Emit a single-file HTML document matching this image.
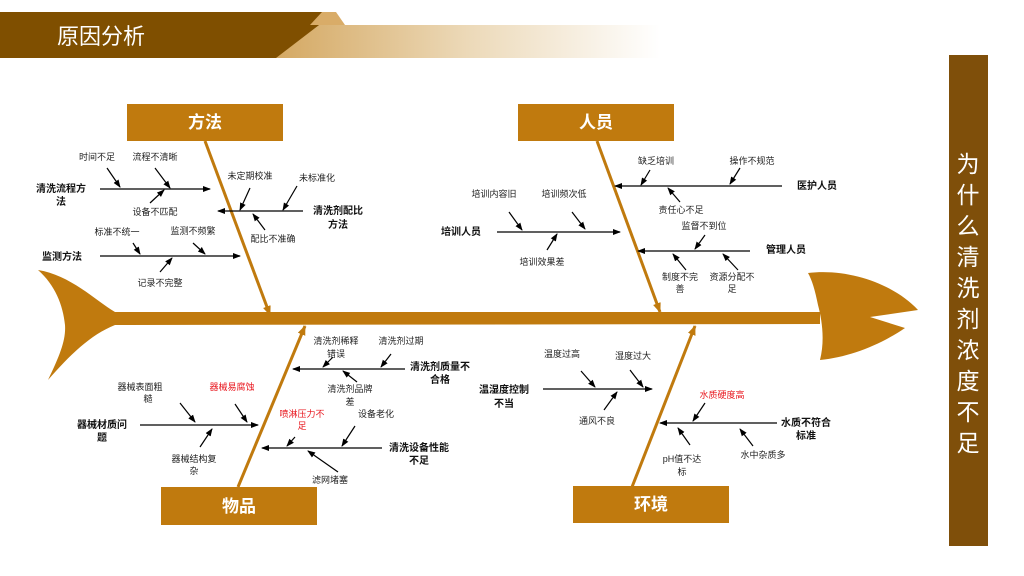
<!DOCTYPE html>
<html><head><meta charset="utf-8"><style>
html,body{margin:0;padding:0;background:#fff;}
svg{display:block;font-family:"Liberation Sans","Noto Sans CJK SC",sans-serif;}
.s{font-size:9px;fill:#222;text-anchor:middle;}
.r{font-size:9px;fill:#e8141c;text-anchor:middle;}
.b{font-size:10px;font-weight:bold;fill:#111;text-anchor:middle;}
.c{font-size:17px;font-weight:bold;fill:#fff;text-anchor:middle;}
</style></head><body>
<svg width="1024" height="576" viewBox="0 0 1024 576">
<defs>
<linearGradient id="g" x1="0" x2="1"><stop offset="0" stop-color="#d4a862"/><stop offset="0.5" stop-color="#ecd9b8"/><stop offset="1" stop-color="#fff"/></linearGradient>
<marker id="a" markerWidth="8" markerHeight="8" refX="7" refY="4" orient="auto" markerUnits="userSpaceOnUse"><path d="M0,1 L8,4 L0,7 z" fill="#000"/></marker>
<marker id="o" markerWidth="10" markerHeight="10" refX="9" refY="5" orient="auto" markerUnits="userSpaceOnUse"><path d="M0,1 L10,5 L0,9 z" fill="#c07a0e"/></marker>
</defs>
<!-- header -->
<polygon points="275,58 310,25 660,25 660,58" fill="url(#g)"/>
<polygon points="0,12 336,12 276,58 0,58" fill="#7f4f00"/>
<polygon points="322,12 336,12 345,25 310,25" fill="#d9ac68"/>
<text x="57" y="44" font-size="22" fill="#fff">原因分析</text>
<!-- right panel -->
<rect x="949" y="55" width="39" height="491" fill="#7f4f0a"/>
<g font-size="23" fill="#fff" text-anchor="middle">
<text x="968" y="172">为</text><text x="968" y="203">什</text><text x="968" y="234">么</text><text x="968" y="265">清</text><text x="968" y="296">洗</text><text x="968" y="327">剂</text><text x="968" y="358">浓</text><text x="968" y="389">度</text><text x="968" y="420">不</text><text x="968" y="451">足</text>
</g>
<!-- fish -->
<g fill="#c07a0e">
<path d="M38,270 C70,275 95,300 115,312 L820,312 L820,324 L115,325 C90,335 70,355 48,380 C60,355 66,340 65,325 C63,305 55,285 38,270 z"/>
<path d="M808,273 C850,268 895,285 918,310 L870,317 L905,328 C880,345 850,357 820,360 C825,340 822,320 818,305 C815,290 812,280 808,273 z"/>
</g>
<!-- main bones -->
<g stroke="#c07a0e" stroke-width="3" marker-end="url(#o)">
<line x1="205" y1="141" x2="270" y2="315"/>
<line x1="597" y1="141" x2="660" y2="312"/>
<line x1="238" y1="487" x2="305" y2="326"/>
<line x1="632" y1="487" x2="695" y2="326"/>
</g>
<!-- boxes -->
<g fill="#c07a0e">
<rect x="127" y="104" width="156" height="37"/><rect x="518" y="104" width="156" height="37"/>
<rect x="161" y="487" width="156" height="38"/><rect x="573" y="486" width="156" height="37"/>
</g>
<text class="c" x="205" y="128">方法</text><text class="c" x="596" y="128">人员</text>
<text class="c" x="239" y="512">物品</text><text class="c" x="651" y="510">环境</text>
<!-- branches -->
<g stroke="#000" stroke-width="1.2" marker-end="url(#a)">
<line x1="100" y1="189" x2="210" y2="189"/>
<line x1="107" y1="168" x2="120" y2="187"/><line x1="155" y1="168" x2="170" y2="188"/><line x1="150" y1="203" x2="164" y2="190"/>
<line x1="303" y1="211" x2="218" y2="211"/>
<line x1="250" y1="188" x2="240" y2="210"/><line x1="297" y1="186" x2="283" y2="210"/><line x1="265" y1="230" x2="253" y2="214"/>
<line x1="100" y1="256" x2="240" y2="256"/>
<line x1="133" y1="243" x2="140" y2="254"/><line x1="193" y1="243" x2="205" y2="254"/><line x1="160" y1="272" x2="172" y2="258"/>
<line x1="782" y1="186" x2="615" y2="186"/>
<line x1="650" y1="170" x2="641" y2="185"/><line x1="740" y1="168" x2="730" y2="184"/><line x1="680" y1="202" x2="668" y2="188"/>
<line x1="497" y1="232" x2="620" y2="232"/>
<line x1="509" y1="212" x2="522" y2="230"/><line x1="572" y1="212" x2="585" y2="229"/><line x1="547" y1="250" x2="557" y2="234"/>
<line x1="750" y1="251" x2="638" y2="251"/>
<line x1="705" y1="235" x2="695" y2="249"/><line x1="686" y1="270" x2="673" y2="254"/><line x1="738" y1="270" x2="723" y2="254"/>
<line x1="405" y1="369" x2="293" y2="369"/>
<line x1="333" y1="357" x2="323" y2="367"/><line x1="391" y1="354" x2="381" y2="367"/><line x1="357" y1="382" x2="343" y2="371"/>
<line x1="140" y1="425" x2="258" y2="425"/>
<line x1="180" y1="403" x2="195" y2="422"/><line x1="235" y1="404" x2="247" y2="422"/><line x1="200" y1="447" x2="212" y2="429"/>
<line x1="382" y1="448" x2="262" y2="448"/>
<line x1="295" y1="437" x2="287" y2="446"/><line x1="355" y1="426" x2="342" y2="446"/><line x1="338" y1="472" x2="308" y2="451"/>
<line x1="543" y1="389" x2="652" y2="389"/>
<line x1="581" y1="371" x2="595" y2="387"/><line x1="630" y1="370" x2="643" y2="387"/><line x1="604" y1="410" x2="617" y2="392"/>
<line x1="777" y1="423" x2="660" y2="423"/>
<line x1="705" y1="403" x2="693" y2="421"/><line x1="690" y1="445" x2="678" y2="428"/><line x1="753" y1="446" x2="740" y2="429"/>
</g>
<!-- labels -->
<text class="s" x="97" y="160">时间不足</text><text class="s" x="155" y="160">流程不清晰</text>
<text class="b" x="61" y="192">清洗流程方</text><text class="b" x="61" y="205">法</text>
<text class="s" x="155" y="215">设备不匹配</text>
<text class="s" x="250" y="179">未定期校准</text><text class="s" x="317" y="181">未标准化</text>
<text class="b" x="338" y="214">清洗剂配比</text><text class="b" x="338" y="228">方法</text>
<text class="s" x="273" y="242">配比不准确</text>
<text class="b" x="62" y="260">监测方法</text>
<text class="s" x="117" y="235">标准不统一</text><text class="s" x="193" y="234">监测不频繁</text>
<text class="s" x="160" y="286">记录不完整</text>
<text class="b" x="817" y="189">医护人员</text>
<text class="s" x="656" y="164">缺乏培训</text><text class="s" x="752" y="164">操作不规范</text>
<text class="s" x="681" y="213">责任心不足</text>
<text class="b" x="461" y="235">培训人员</text>
<text class="s" x="494" y="197">培训内容旧</text><text class="s" x="564" y="197">培训频次低</text>
<text class="s" x="542" y="265">培训效果差</text>
<text class="b" x="786" y="253">管理人员</text>
<text class="s" x="704" y="229">监督不到位</text>
<text class="s" x="680" y="280">制度不完</text><text class="s" x="680" y="292">善</text>
<text class="s" x="732" y="280">资源分配不</text><text class="s" x="732" y="292">足</text>
<text class="s" x="336" y="344">清洗剂稀释</text><text class="s" x="336" y="357">错误</text>
<text class="s" x="401" y="344">清洗剂过期</text>
<text class="b" x="440" y="370">清洗剂质量不</text><text class="b" x="440" y="383">合格</text>
<text class="s" x="350" y="392">清洗剂品牌</text><text class="s" x="350" y="405">差</text>
<text class="s" x="140" y="390">器械表面粗</text><text class="s" x="148" y="402">糙</text>
<text class="r" x="232" y="390">器械易腐蚀</text>
<text class="b" x="102" y="428">器械材质问</text><text class="b" x="102" y="441">题</text>
<text class="s" x="194" y="462">器械结构复</text><text class="s" x="194" y="474">杂</text>
<text class="r" x="302" y="417">喷淋压力不</text><text class="r" x="302" y="429">足</text>
<text class="s" x="376" y="417">设备老化</text>
<text class="b" x="419" y="451">清洗设备性能</text><text class="b" x="419" y="464">不足</text>
<text class="s" x="330" y="483">滤网堵塞</text>
<text class="s" x="562" y="357">温度过高</text><text class="s" x="633" y="359">湿度过大</text>
<text class="b" x="504" y="393">温湿度控制</text><text class="b" x="504" y="407">不当</text>
<text class="s" x="597" y="424">通风不良</text>
<text class="r" x="722" y="398">水质硬度高</text>
<text class="b" x="806" y="426">水质不符合</text><text class="b" x="806" y="439">标准</text>
<text class="s" x="682" y="462">pH值不达</text><text class="s" x="682" y="475">标</text>
<text class="s" x="763" y="458">水中杂质多</text>
</svg>
</body></html>
